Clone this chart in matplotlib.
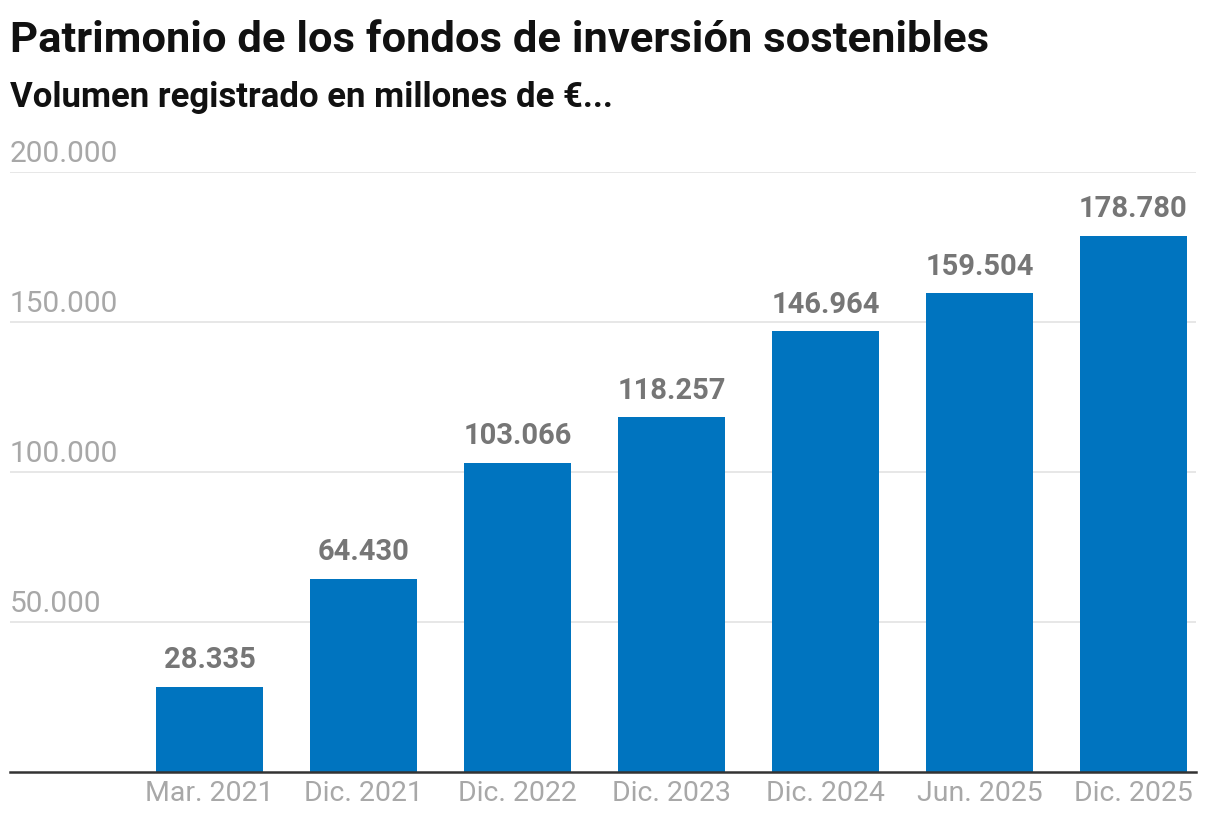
import matplotlib
matplotlib.use("Agg")
import matplotlib.pyplot as plt

# data
categories = ["Mar. 2021", "Dic. 2021", "Dic. 2022", "Dic. 2023", "Dic. 2024", "Jun. 2025", "Dic. 2025"]
values = [28335, 64430, 103066, 118257, 146964, 159504, 178780]
yticks = [50000, 100000, 150000, 200000]

BAR = "#0074bf"
GRID = "#e3e3e3"
TICK = "#a8a8a8"
LABEL = "#767676"
TITLE_FONT = ["Roboto", "DejaVu Sans"]
BODY_FONT = ["Roboto", "Liberation Sans", "DejaVu Sans"]


def es_num(v):
    return f"{int(v):,}".replace(",", ".")


W, H = 1220, 838
fig = plt.figure(figsize=(W / 100, H / 100), dpi=100)
ax = fig.add_axes([10 / W, (H - 772) / H, 1186 / W, 600 / H])

x = list(range(len(categories)))
ax.bar(x, values, width=0.695, color=BAR, zorder=2)
ax.set_xlim(-1.295, 6.406)
ax.set_ylim(0, 200000)

for i, v in zip(x, values):
    ax.annotate(es_num(v), (i, v), xytext=(0, 9), textcoords="offset points",
                ha="center", va="bottom", fontsize=21, fontweight="bold",
                color=LABEL, family=BODY_FONT)

# grid + y labels sitting above the lines
ax.set_yticks(yticks)
ax.yaxis.grid(True, color=GRID, linewidth=1.2, zorder=0)
ax.tick_params(axis="y", length=0, labelleft=False)
for t in yticks:
    ax.annotate(es_num(t), (0, t), xycoords=("axes fraction", "data"),
                xytext=(0, 3), textcoords="offset points", ha="left", va="bottom",
                fontsize=21.5, color=TICK, family=BODY_FONT)

ax.set_xticks(x)
ax.set_xticklabels(categories, fontsize=20.5, color=TICK, family=BODY_FONT)
ax.tick_params(axis="x", length=0, pad=6)

for s in ["top", "right", "left"]:
    ax.spines[s].set_visible(False)
ax.spines["bottom"].set_color("#333333")
ax.spines["bottom"].set_linewidth(1.8)
ax.spines["bottom"].set_zorder(3)

fig.text(10 / W, 1 - 40 / H, "Patrimonio de los fondos de inversión sostenibles",
         fontsize=31.3, fontweight="bold", color="#111111", family=TITLE_FONT,
         ha="left", va="center")
fig.text(10 / W, 1 - 97 / H, "Volumen registrado en millones de €...",
         fontsize=25, fontweight="bold", color="#111111", family=TITLE_FONT,
         ha="left", va="center")

fig.savefig("out.png", dpi=100, facecolor="white")
